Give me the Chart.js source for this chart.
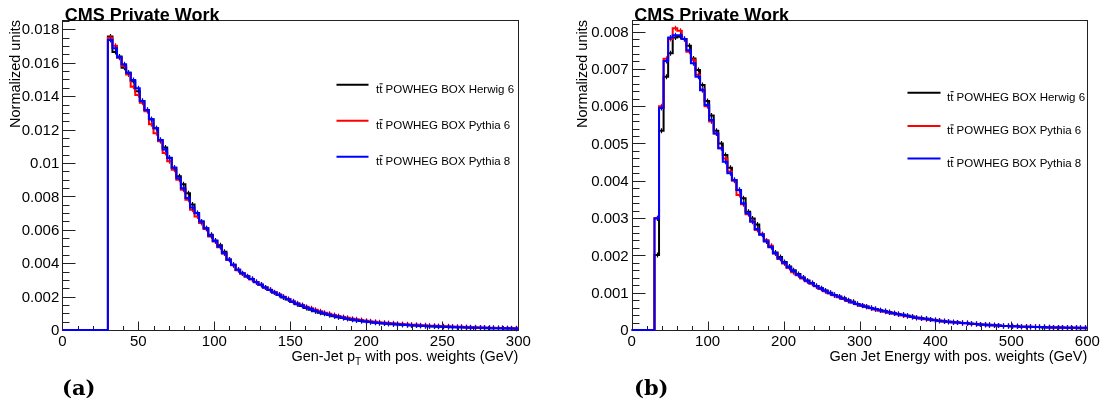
<!DOCTYPE html>
<html>
<head>
<meta charset="utf-8">
<title>Gen-jet pT and energy</title>
<script src="https://cdn.jsdelivr.net/npm/chart.js@4.4.0/dist/chart.umd.min.js"></script>
<style>
  html, body { margin: 0; padding: 0; background: #fff; }
  #wrap { position: relative; width: 1103px; height: 409px; }
  #wrap canvas { position: absolute; top: 0; }
  #ptChart { left: 0; }
  #energyChart { left: 551px; }
</style>
</head>
<body>
<div id="wrap">
  <canvas id="ptChart" width="551" height="409"></canvas>
  <canvas id="energyChart" width="552" height="409"></canvas>
</div>
<script>
// ---- samples ----
const sampleLabels = ['POWHEG BOX Herwig 6', 'POWHEG BOX Pythia 6', 'POWHEG BOX Pythia 8'];
const sampleColors = ['#000000', '#ff0000', '#0000ff'];

// ---- gen-jet pT: 3 GeV bins, first filled bin starts at 30 GeV ----
const ptFirstEdge = 30;
const ptBinWidth = 3;
const ptHerwig6 = [
  0.01757, 0.01665, 0.01637, 0.01570, 0.01540, 0.01490, 0.01430, 0.01371, 0.01317, 0.01262,
  0.01208, 0.01138, 0.01092, 0.01032, 0.00972, 0.00920, 0.00872, 0.00818, 0.00752, 0.00700,
  0.00649, 0.00609, 0.00570, 0.00536, 0.00508, 0.00468, 0.00422, 0.00390, 0.00360, 0.00338,
  0.00320, 0.00306, 0.00288, 0.00270, 0.00254, 0.00239, 0.00224, 0.00210, 0.00195, 0.00182,
  0.00167, 0.00154, 0.00143, 0.00131, 0.00121, 0.00113, 0.00104, 0.00097, 0.00090, 0.00083,
  0.00077, 0.00072, 0.00067, 0.00062, 0.00058, 0.00054, 0.00051, 0.00048, 0.00044, 0.00042,
  0.00039, 0.00037, 0.00035, 0.00033, 0.00031, 0.00030, 0.00028, 0.00027, 0.00025, 0.00024,
  0.00022, 0.00021, 0.00020, 0.00019, 0.00018, 0.00017, 0.00017, 0.00016, 0.00015, 0.00014,
  0.00013, 0.00013, 0.00012, 0.00011, 0.00011, 0.00010, 0.00010, 0.00009, 0.00009, 0.00008
];
const ptPythia6 = [
  0.01750, 0.01702, 0.01630, 0.01580, 0.01530, 0.01457, 0.01407, 0.01360, 0.01310, 0.01232,
  0.01178, 0.01130, 0.01060, 0.01010, 0.00960, 0.00900, 0.00840, 0.00780, 0.00720, 0.00680,
  0.00640, 0.00605, 0.00560, 0.00530, 0.00495, 0.00458, 0.00420, 0.00388, 0.00358, 0.00338,
  0.00320, 0.00303, 0.00287, 0.00271, 0.00255, 0.00241, 0.00226, 0.00212, 0.00199, 0.00186,
  0.00172, 0.00160, 0.00150, 0.00139, 0.00130, 0.00121, 0.00112, 0.00104, 0.00097, 0.00090,
  0.00084, 0.00078, 0.00073, 0.00068, 0.00064, 0.00060, 0.00056, 0.00053, 0.00050, 0.00047,
  0.00044, 0.00042, 0.00040, 0.00038, 0.00036, 0.00034, 0.00032, 0.00031, 0.00029, 0.00028,
  0.00026, 0.00025, 0.00024, 0.00023, 0.00022, 0.00021, 0.00020, 0.00019, 0.00018, 0.00017,
  0.00016, 0.00015, 0.00015, 0.00014, 0.00013, 0.00012, 0.00012, 0.00011, 0.00011, 0.00010
];
const ptPythia8 = [
  0.01737, 0.01687, 0.01633, 0.01591, 0.01540, 0.01497, 0.01447, 0.01371, 0.01317, 0.01262,
  0.01208, 0.01138, 0.01080, 0.01030, 0.00972, 0.00908, 0.00848, 0.00790, 0.00734, 0.00699,
  0.00649, 0.00609, 0.00565, 0.00533, 0.00499, 0.00460, 0.00420, 0.00391, 0.00360, 0.00340,
  0.00322, 0.00305, 0.00286, 0.00272, 0.00255, 0.00240, 0.00225, 0.00211, 0.00197, 0.00184,
  0.00169, 0.00157, 0.00146, 0.00135, 0.00125, 0.00116, 0.00107, 0.00099, 0.00092, 0.00085,
  0.00079, 0.00073, 0.00068, 0.00063, 0.00059, 0.00055, 0.00051, 0.00048, 0.00045, 0.00042,
  0.00040, 0.00038, 0.00036, 0.00034, 0.00032, 0.00030, 0.00029, 0.00027, 0.00026, 0.00024,
  0.00023, 0.00022, 0.00021, 0.00020, 0.00019, 0.00018, 0.00017, 0.00016, 0.00015, 0.00015,
  0.00014, 0.00013, 0.00013, 0.00012, 0.00011, 0.00011, 0.00010, 0.00010, 0.00009, 0.00009
];
const ptXTicks = [0, 50, 100, 150, 200, 250, 300];
const ptYTicks = [0, 0.002, 0.004, 0.006, 0.008, 0.01, 0.012, 0.014, 0.016, 0.018];
const ptYTickLabels = ['0', '0.002', '0.004', '0.006', '0.008', '0.01', '0.012', '0.014', '0.016', '0.018'];

// ---- gen-jet energy: 6 GeV bins, first filled bin starts at 30 GeV ----
const eFirstEdge = 30;
const eBinWidth = 6;
const eHerwig6 = [
  0.00201, 0.00534, 0.00679, 0.00742, 0.00784, 0.00786, 0.00780, 0.00762, 0.00728, 0.00697,
  0.00657, 0.00614, 0.00575, 0.00534, 0.00500, 0.00469, 0.00435, 0.00402, 0.00375, 0.00353,
  0.00317, 0.00299, 0.00283, 0.00257, 0.00240, 0.00224, 0.00208, 0.00196, 0.00182, 0.00170,
  0.00160, 0.00150, 0.00141, 0.00133, 0.00126, 0.00118, 0.00112, 0.00106, 0.00100, 0.00094,
  0.00090, 0.00085, 0.00080, 0.00076, 0.00070, 0.00066, 0.00063, 0.00059, 0.00056, 0.00053,
  0.00051, 0.00048, 0.00045, 0.00043, 0.00041, 0.00038, 0.00036, 0.00033, 0.00032, 0.00030,
  0.00028, 0.00027, 0.00025, 0.00024, 0.00022, 0.00021, 0.00020, 0.00019, 0.00019, 0.00017,
  0.00016, 0.00015, 0.00014, 0.00014, 0.00013, 0.00012, 0.00011, 0.00011, 0.00010, 0.00010,
  0.00009, 0.00009, 0.00008, 0.00008, 0.00008, 0.00007, 0.00007, 0.00007, 0.00007, 0.00006,
  0.00006, 0.00006, 0.00006, 0.00005, 0.00005
];
const ePythia6 = [
  0.00300, 0.00600, 0.00727, 0.00780, 0.00809, 0.00802, 0.00780, 0.00746, 0.00724, 0.00684,
  0.00645, 0.00600, 0.00559, 0.00527, 0.00487, 0.00460, 0.00425, 0.00400, 0.00362, 0.00337,
  0.00310, 0.00292, 0.00268, 0.00257, 0.00240, 0.00226, 0.00205, 0.00190, 0.00178, 0.00166,
  0.00155, 0.00147, 0.00138, 0.00131, 0.00124, 0.00117, 0.00110, 0.00104, 0.00098, 0.00093,
  0.00088, 0.00083, 0.00078, 0.00074, 0.00069, 0.00065, 0.00062, 0.00058, 0.00055, 0.00052,
  0.00049, 0.00047, 0.00044, 0.00042, 0.00039, 0.00037, 0.00035, 0.00033, 0.00031, 0.00029,
  0.00028, 0.00026, 0.00025, 0.00023, 0.00022, 0.00021, 0.00020, 0.00019, 0.00018, 0.00017,
  0.00016, 0.00015, 0.00014, 0.00013, 0.00013, 0.00012, 0.00011, 0.00011, 0.00010, 0.00010,
  0.00009, 0.00009, 0.00009, 0.00008, 0.00008, 0.00008, 0.00008, 0.00007, 0.00007, 0.00007,
  0.00006, 0.00006, 0.00006, 0.00006, 0.00006
];
const ePythia8 = [
  0.00299, 0.00595, 0.00721, 0.00784, 0.00790, 0.00790, 0.00780, 0.00750, 0.00715, 0.00679,
  0.00643, 0.00603, 0.00563, 0.00527, 0.00487, 0.00451, 0.00420, 0.00402, 0.00375, 0.00340,
  0.00313, 0.00290, 0.00271, 0.00255, 0.00237, 0.00222, 0.00206, 0.00192, 0.00180, 0.00168,
  0.00158, 0.00148, 0.00140, 0.00132, 0.00125, 0.00118, 0.00111, 0.00105, 0.00099, 0.00094,
  0.00089, 0.00084, 0.00079, 0.00074, 0.00070, 0.00066, 0.00062, 0.00059, 0.00056, 0.00053,
  0.00050, 0.00047, 0.00045, 0.00042, 0.00040, 0.00038, 0.00035, 0.00033, 0.00031, 0.00030,
  0.00028, 0.00026, 0.00025, 0.00023, 0.00022, 0.00021, 0.00020, 0.00019, 0.00018, 0.00017,
  0.00016, 0.00015, 0.00014, 0.00013, 0.00013, 0.00012, 0.00011, 0.00011, 0.00010, 0.00010,
  0.00009, 0.00009, 0.00009, 0.00008, 0.00008, 0.00008, 0.00007, 0.00007, 0.00007, 0.00007,
  0.00006, 0.00006, 0.00006, 0.00006, 0.00006
];
const eXTicks = [0, 100, 200, 300, 400, 500, 600];
const eYTicks = [0, 0.001, 0.002, 0.003, 0.004, 0.005, 0.006, 0.007, 0.008];
const eYTickLabels = ['0', '0.001', '0.002', '0.003', '0.004', '0.005', '0.006', '0.007', '0.008'];

const SANS = '"Liberation Sans", Arial, Helvetica, sans-serif';

// step points: empty bins below the first edge sit on zero, last bin closed at its upper edge
function histPoints(values, firstEdge, binWidth) {
  const pts = [{ x: 0, y: 0 }];
  values.forEach((v, i) => pts.push({ x: firstEdge + i * binWidth, y: v }));
  pts.push({ x: firstEdge + values.length * binWidth, y: values[values.length - 1] });
  return pts;
}

function histDatasets(series, firstEdge, binWidth) {
  return series.map((values, i) => ({
    label: sampleLabels[i],
    data: histPoints(values, firstEdge, binWidth),
    bins: { values, firstEdge, binWidth },
    borderColor: sampleColors[i],
    borderWidth: 2,
    stepped: 'before',
    pointRadius: 0,
    fill: false,
    clip: false,
    order: series.length - 1 - i   // Pythia 8 ends up on top
  }));
}

// small vertical error marks at the bin centres, drawn with each histogram
const binErrors = {
  id: 'binErrors',
  afterDatasetDraw(chart, args) {
    const ds = chart.data.datasets[args.index];
    const { ctx, scales: { x, y } } = chart;
    const { values, firstEdge, binWidth } = ds.bins;
    ctx.save();
    ctx.strokeStyle = ds.borderColor;
    ctx.lineWidth = 1.2;
    ctx.beginPath();
    values.forEach((v, i) => {
      const px = Math.round(x.getPixelForValue(firstEdge + (i + 0.5) * binWidth)) + 0.5;
      const py = y.getPixelForValue(v);
      ctx.moveTo(px, py - 2.5); ctx.lineTo(px, py + 2.5);
    });
    ctx.stroke();
    ctx.restore();
  }
};

// ROOT-like frame: inward ticks on the left and bottom axes, labels, titles, legend
const rootFrame = {
  id: 'rootFrame',
  beforeDatasetsDraw(chart, args, o) {
    const { ctx, chartArea: a, scales: { x, y } } = chart;
    ctx.save();
    ctx.strokeStyle = '#222';
    ctx.lineWidth = 1;
    const L = Math.round(a.left) + 0.5, R = Math.round(a.right) + 0.5;
    const T = Math.round(a.top) + 0.5, B = Math.round(a.bottom) + 0.5;
    ctx.strokeRect(L, T, R - L, B - T);

    ctx.beginPath();
    // y axis ticks
    const nyMinor = Math.floor(y.max / o.yMinorStep + 1e-6);
    for (let k = 0; k <= nyMinor; k++) {
      const py = Math.round(y.getPixelForValue(k * o.yMinorStep)) + 0.5;
      ctx.moveTo(L, py); ctx.lineTo(L + 7, py);
    }
    o.yTicks.forEach(v => {
      const py = Math.round(y.getPixelForValue(v)) + 0.5;
      ctx.moveTo(L, py); ctx.lineTo(L + 13, py);
    });
    // x axis ticks
    const nxMinor = Math.floor(x.max / o.xMinorStep + 1e-6);
    for (let k = 0; k <= nxMinor; k++) {
      const px = Math.round(x.getPixelForValue(k * o.xMinorStep)) + 0.5;
      ctx.moveTo(px, B); ctx.lineTo(px, B - 4.5);
    }
    o.xTicks.forEach(v => {
      const px = Math.round(x.getPixelForValue(v)) + 0.5;
      ctx.moveTo(px, B); ctx.lineTo(px, B - 9);
    });
    ctx.stroke();
    ctx.restore();
  },
  afterDraw(chart, args, o) {
    const { ctx, chartArea: a, scales: { x, y } } = chart;
    ctx.save();
    ctx.fillStyle = '#000';

    // tick labels
    ctx.font = '15px ' + SANS;
    ctx.textAlign = 'right';
    ctx.textBaseline = 'middle';
    o.yTicks.forEach((v, i) => ctx.fillText(o.yTickLabels[i], a.left - 3, y.getPixelForValue(v) + 1));
    ctx.textAlign = 'center';
    ctx.textBaseline = 'alphabetic';
    o.xTicks.forEach(v => ctx.fillText(String(v), x.getPixelForValue(v), a.bottom + 16));

    // axis titles
    ctx.font = '14.5px ' + SANS;
    const [t1, sub, t2] = o.xTitle;
    const w1 = ctx.measureText(t1).width, w2 = ctx.measureText(t2).width;
    ctx.font = '10px ' + SANS;
    const ws = ctx.measureText(sub).width;
    let tx = a.right - (w1 + ws + w2);
    const ty = a.bottom + 31;
    ctx.textAlign = 'left';
    ctx.font = '14.5px ' + SANS;
    ctx.fillText(t1, tx, ty); tx += w1;
    ctx.font = '10px ' + SANS;
    ctx.fillText(sub, tx, ty + 4); tx += ws;
    ctx.font = '14.5px ' + SANS;
    ctx.fillText(t2, tx, ty);

    ctx.save();
    ctx.translate(o.yTitleX, a.top);
    ctx.rotate(-Math.PI / 2);
    ctx.textAlign = 'right';
    ctx.fillText(o.yTitle, 0, 0);
    ctx.restore();

    // header
    ctx.font = 'bold 18px ' + SANS;
    ctx.textAlign = 'left';
    ctx.fillText('CMS Private Work', a.left + 2.5, a.top + 0.5);

    // legend
    const lg = o.legend;
    chart.data.datasets.forEach((ds, i) => {
      const ly = lg.rowsY[i];
      ctx.strokeStyle = ds.borderColor;
      ctx.lineWidth = 2;
      ctx.beginPath();
      ctx.moveTo(lg.lineX[0], ly); ctx.lineTo(lg.lineX[1], ly);
      ctx.stroke();

      ctx.font = '11.5px ' + SANS;
      ctx.textAlign = 'left';
      const by = ly + 8.5;
      const wt = ctx.measureText('t').width;
      ctx.fillText('tt', lg.textX, by);
      // bar over the second t
      ctx.strokeStyle = '#000';
      ctx.lineWidth = 1;
      ctx.beginPath();
      ctx.moveTo(lg.textX + wt + 0.3, by - 9.5);
      ctx.lineTo(lg.textX + 2 * wt + 0.3, by - 9.5);
      ctx.stroke();
      ctx.fillText(' ' + ds.label, lg.textX + 2 * wt, by);
    });

    // panel tag
    ctx.font = 'bold 21px "DejaVu Serif", "Liberation Serif", serif';
    ctx.textAlign = 'left';
    ctx.fillText(o.panelTag, o.tagX, 395);
    ctx.restore();
  }
};

function makeChart(id, series, firstEdge, binWidth, xMax, yMax, padding, frame) {
  return new Chart(document.getElementById(id), {
    type: 'line',
    data: { datasets: histDatasets(series, firstEdge, binWidth) },
    options: {
      responsive: false,
      animation: false,
      layout: { padding },
      scales: {
        x: { type: 'linear', min: 0, max: xMax, display: false },
        y: { type: 'linear', min: 0, max: yMax, display: false }
      },
      elements: { line: { tension: 0, borderJoinStyle: 'miter' } },
      plugins: {
        legend: { display: false },
        tooltip: { enabled: false },
        rootFrame: frame
      }
    },
    plugins: [rootFrame, binErrors]
  });
}

makeChart('ptChart', [ptHerwig6, ptPythia6, ptPythia8], ptFirstEdge, ptBinWidth, 300, 0.01856,
  { left: 62.3, right: 32.7, top: 20, bottom: 79 },
  {
    xTicks: ptXTicks, xMinorStep: 10,
    yTicks: ptYTicks, yTickLabels: ptYTickLabels, yMinorStep: 0.0005,
    xTitle: ['Gen-Jet p', 'T', ' with pos. weights (GeV)'],
    yTitle: 'Normalized units', yTitleX: 19.5,
    legend: { lineX: [336.5, 368.5], rowsY: [84.8, 120.7, 156.7], textX: 376 },
    panelTag: '(a)', tagX: 62
  });

makeChart('energyChart', [eHerwig6, ePythia6, ePythia8], eFirstEdge, eBinWidth, 600, 0.00831,
  { left: 80.7, right: 15.7, top: 20, bottom: 79 },
  {
    xTicks: eXTicks, xMinorStep: 20,
    yTicks: eYTicks, yTickLabels: eYTickLabels, yMinorStep: 0.0002,
    xTitle: ['Gen Jet Energy with pos. weights (GeV)', '', ''],
    yTitle: 'Normalized units', yTitleX: 36,
    legend: { lineX: [356.5, 389.5], rowsY: [92.7, 125.9, 158.5], textX: 396 },
    panelTag: '(b)', tagX: 83
  });
</script>
</body>
</html>
